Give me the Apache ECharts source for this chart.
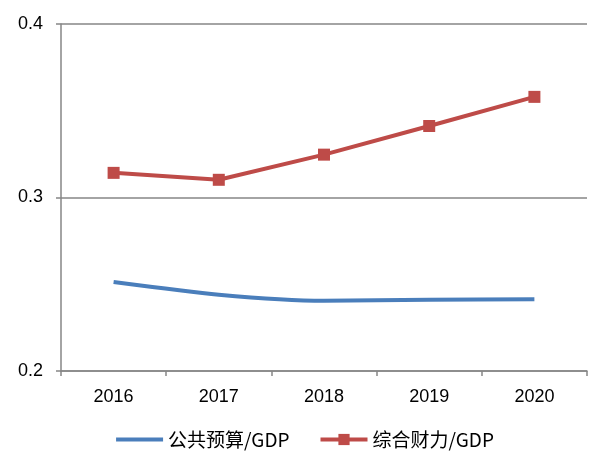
<!DOCTYPE html>
<html><head><meta charset="utf-8">
<script src="https://cdn.jsdelivr.net/npm/echarts@6/dist/echarts.min.js"></script>
<style>html,body{margin:0;padding:0;background:#fff}#c{width:608px;height:460px}</style>
</head><body><div id="c"></div>
<script>
const categories = ['2016','2017','2018','2019','2020'];
const publicBudget = [0.2513, 0.2440, 0.2405, 0.2410, 0.2414];
const comprehensive = [0.3142, 0.3102, 0.3247, 0.3412, 0.3580];
const yTicks = {min: 0.2, max: 0.4, interval: 0.1};

const chart = echarts.init(document.getElementById('c'));
const gray = '#868686';
const font = 'Liberation Sans, DejaVu Sans, sans-serif';
chart.setOption({
  animation: false,
  grid: {left: 61, right: 21, top: 24, bottom: 89, containLabel: false},
  xAxis: {
    type: 'category', data: categories, boundaryGap: true,
    axisLine: {lineStyle: {color: gray, width: 1.5}},
    axisTick: {show: true, length: 5, alignWithLabel: false, lineStyle: {color: gray, width: 1.5}},
    axisLabel: {color: '#000', fontSize: 18, fontFamily: font, margin: 17}
  },
  yAxis: {
    type: 'value', min: yTicks.min, max: yTicks.max, interval: yTicks.interval,
    axisLine: {show: true, lineStyle: {color: gray, width: 1.5}},
    axisTick: {show: true, length: 5, lineStyle: {color: gray, width: 1.5}},
    splitLine: {lineStyle: {color: gray, width: 1.5}},
    axisLabel: {color: '#000', fontSize: 18, fontFamily: font, margin: 18, formatter: v => v.toFixed(1)}
  },
  legend: {
    bottom: 6, left: 'center', itemWidth: 47, itemHeight: 14, itemGap: 29,
    textStyle: {fontSize: 19, color: '#000', fontFamily: 'Noto Sans CJK SC, sans-serif'},
    data: [
      {name: '公共预算/GDP', itemStyle: {opacity: 0}, lineStyle: {width: 4}},
      {name: '综合财力/GDP', lineStyle: {width: 4}}
    ]
  },
  series: [
    {name: '公共预算/GDP', type: 'line', data: publicBudget, smooth: 0.25, symbol: 'none',
     lineStyle: {color: '#4A7EBB', width: 4}, itemStyle: {color: '#4A7EBB'}},
    {name: '综合财力/GDP', type: 'line', data: comprehensive, symbol: 'rect', symbolSize: 12,
     lineStyle: {color: '#BE4B48', width: 4}, itemStyle: {color: '#BE4B48'}}
  ]
});
</script></body></html>
